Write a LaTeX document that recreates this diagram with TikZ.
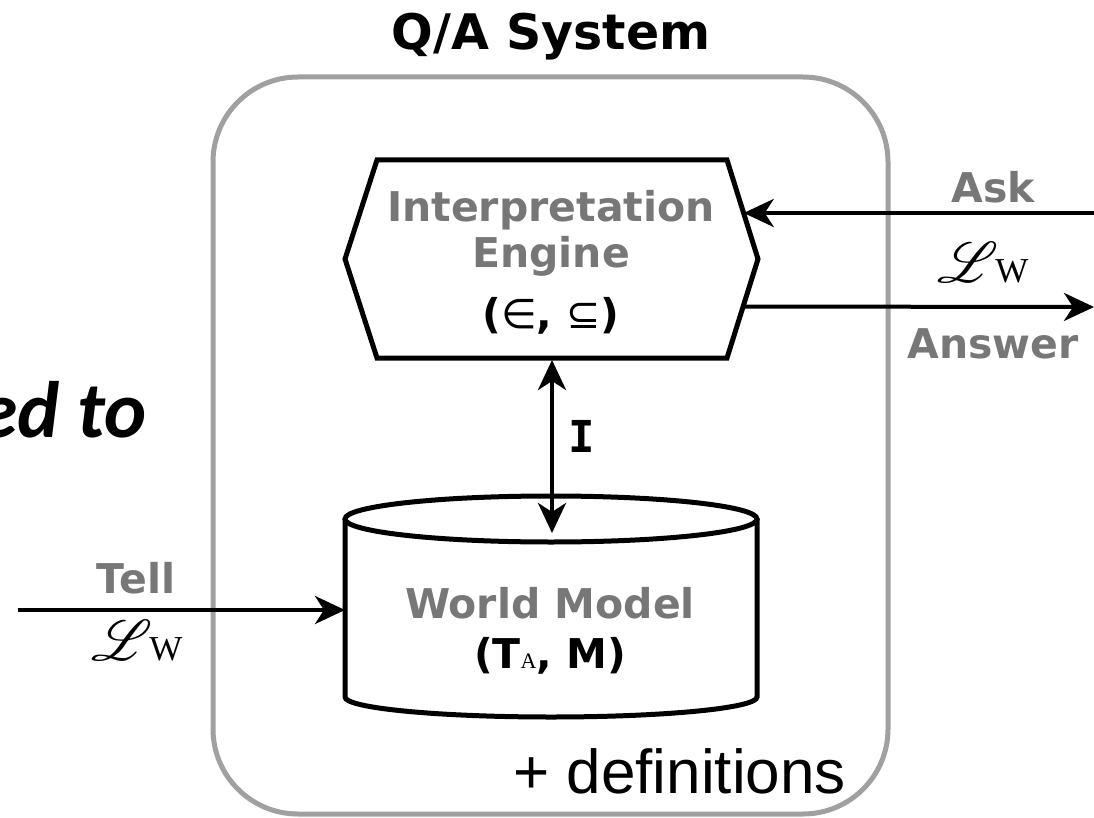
\documentclass[tikz,border=0pt]{standalone}
\usepackage{fontspec}
\usepackage{mathrsfs}
\setmainfont{DejaVu Sans}
\newfontfamily\arialfont{Liberation Sans}
\newfontfamily\calibrifont{Carlito}
\newfontfamily\timesfont{Liberation Serif}
\newfontfamily\monofont{DejaVu Sans Mono}
\usetikzlibrary{positioning,arrows.meta,calc}
\definecolor{labelgray}{HTML}{777777}
\definecolor{boxgray}{HTML}{A0A0A0}
\newcommand{\langw}{\fontsize{24.88}{30}\selectfont\scalebox{2.3}{$\mathscr{L}$}\kern-3pt{\timesfont\fontsize{35}{35}\selectfont W}}

\begin{document}
\begin{tikzpicture}[x=1pt,y=-1pt,>={Stealth[length=30pt,width=28pt,inset=9pt]},
    lbl/.style={font=\bfseries\fontsize{41}{41}\selectfont,text=labelgray,inner sep=0pt,anchor=base},
    conn/.style={line width=4pt,->},
    edge/.style={line width=5pt,line join=miter}]
    \useasboundingbox (0,0) rectangle (1094,818);

    \node[font=\calibrifont\bfseries\itshape\fontsize{80}{80}\selectfont,anchor=base east,inner sep=0pt] (edto) at (147,437) {ed to};
    \node[font=\bfseries\fontsize{49}{49}\selectfont,anchor=base,inner sep=0pt] (title) at (551,50) {Q/A System};
    \draw[boxgray,line width=5pt,rounded corners=85pt] (213,77) rectangle (888,814);

    \coordinate (hw) at (345,259);
    \coordinate (hnw) at (377,160);
    \coordinate (hne) at (727,160);
    \coordinate (he) at (758,259);
    \coordinate (hse) at (727,358);
    \coordinate (hsw) at (377,358);
    \draw[edge] (hw) -- (hnw) -- (hne) -- (he) -- (hse) -- (hsw) -- cycle;

    \node[lbl] (interp) at (551,222) {Interpretation};
    \node[lbl] (engine) at (551,268) {Engine};
    \node[lbl,text=black] (ops) at (551,328) {({\mdseries ∈}, {\mdseries ⊆})};

    \draw[edge] (551,519) ellipse [x radius=206pt,y radius=23pt];
    \draw[edge] (345,519) -- (345,697) arc[start angle=180,end angle=360,x radius=206pt,y radius=20pt] -- (757,519);
    \node[lbl] (world) at (550,618) {World Model};
    \node[lbl,text=black] (wmargs) at (550,668) {(T{\timesfont\mdseries\fontsize{22}{22}\selectfont A}, M)};

    \coordinate (askin) at (1100,213);
    \coordinate (askend) at ($(hne)!0.54!(he)$);
    \coordinate (answerstart) at ($(he)!0.48!(hse)$);
    \coordinate (answerout) at (1094,307);
    \coordinate (tellin) at (18,610);
    \coordinate (cylw) at (345,610);
    \coordinate (hs) at (552,360);
    \coordinate (cyltop) at (552,533);

    \draw[conn] (askin) -- (askin -| askend);
    \draw[conn] (answerstart) -- (answerout);
    \draw[conn] (tellin) -- (cylw);
    \draw[conn,<->] (hs) -- (cyltop);

    \node[lbl] (ask) at (993,203) {Ask};
    \node[inner sep=0pt,anchor=base] (asklang) at (983,282) {\langw};
    \node[lbl] (answer) at (993,358) {Answer};
    \node[lbl] (tell) at (136,593) {Tell};
    \node[inner sep=0pt,anchor=base] (telllang) at (137,660) {\langw};
    \node[lbl,text=black,font=\monofont\bfseries\fontsize{44}{44}\selectfont] (ilabel) at (582,452) {I};

    \node[font=\arialfont\fontsize{62}{62}\selectfont,anchor=base west,inner sep=0pt] (defs) at (513,793) {+ definitions};
\end{tikzpicture}
\end{document}
